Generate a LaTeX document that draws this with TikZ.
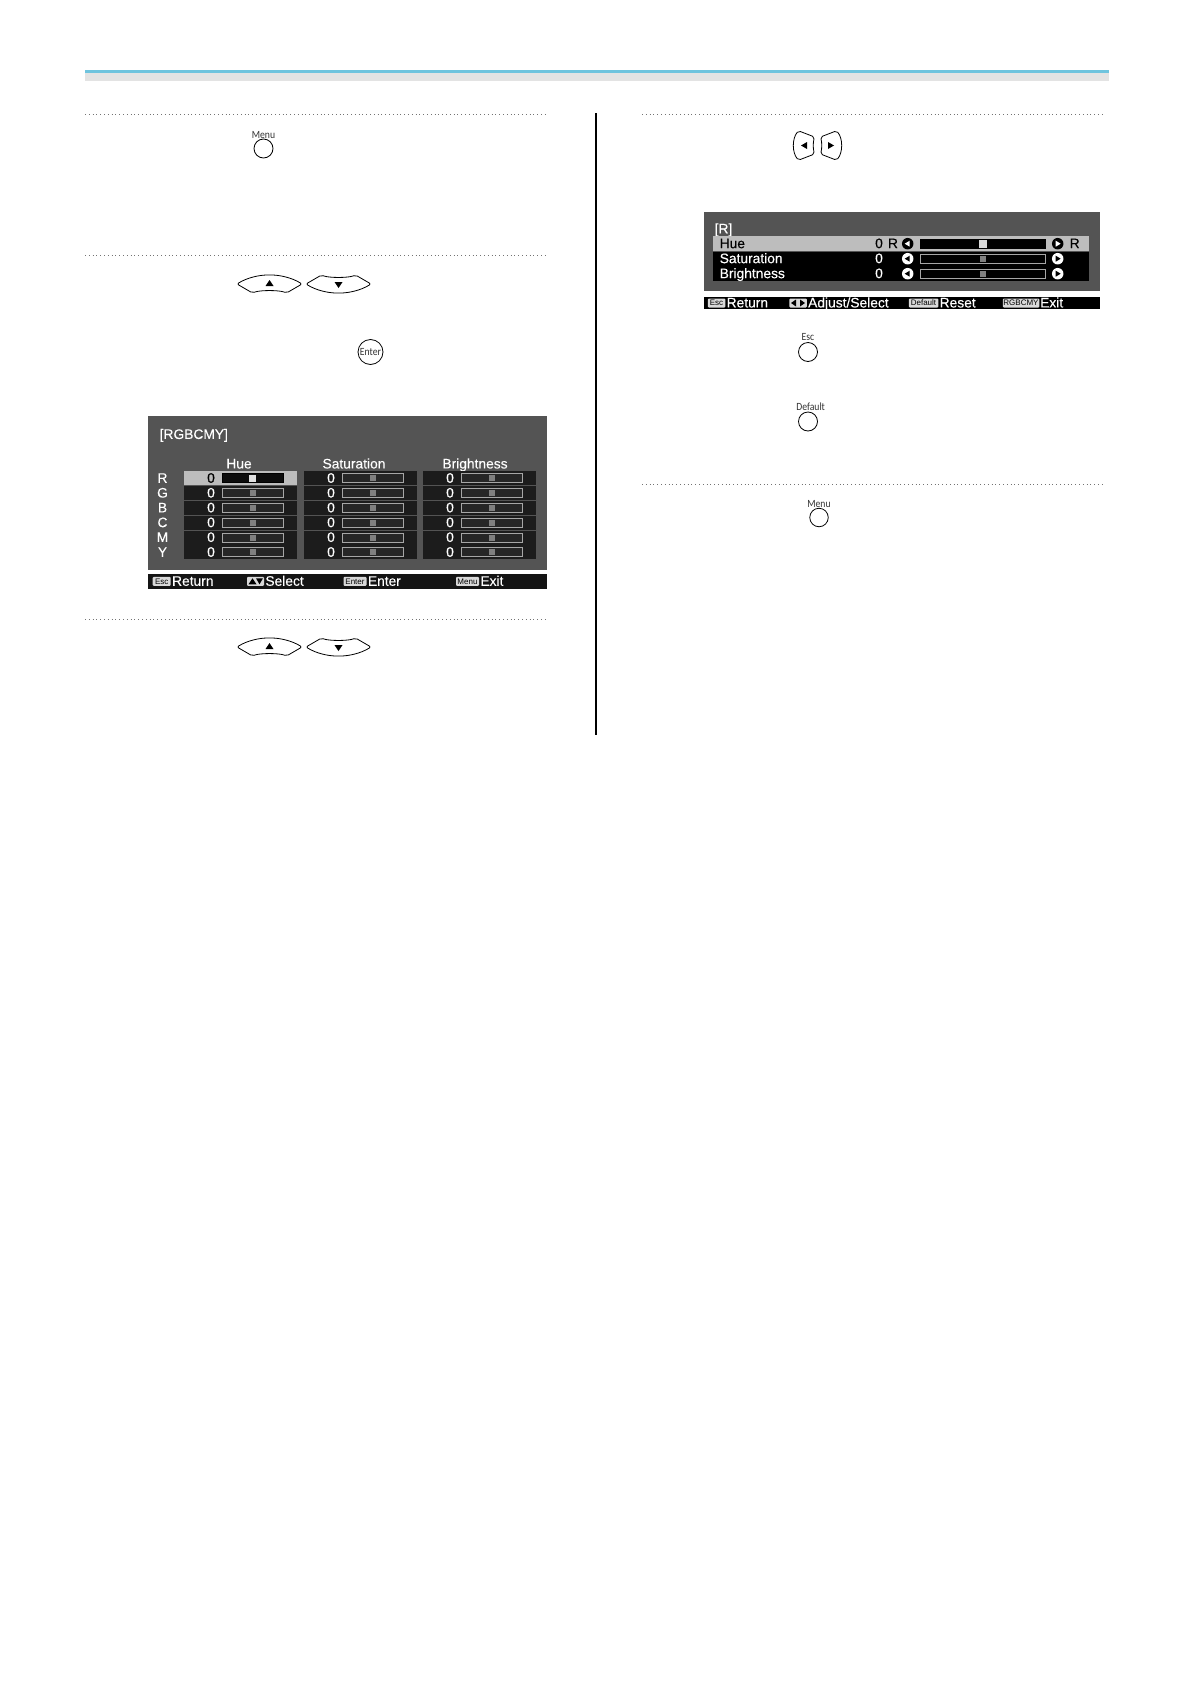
\documentclass[tikz,border=0pt]{standalone}
\usepackage{fontspec}
\setmainfont{Liberation Sans}
\newfontfamily\keyfont{Carlito}
\newfontfamily\osdfont[FakeBold=0.2]{Liberation Sans}
\usetikzlibrary{positioning,calc}

\definecolor{barblue}{HTML}{6FC4DE}
\definecolor{bargray}{HTML}{E3E3E3}
\definecolor{panelgray}{HTML}{545454}
\definecolor{rowdark}{HTML}{1C1C1C}
\definecolor{rowlight}{HTML}{BDBDBD}

\tikzset{
  dotline/.style={draw=black!55, line width=0.9pt, dash pattern=on 0.9pt off 2.9pt},
  btn/.style={circle, draw, line width=0.8pt, inner sep=0pt, minimum size=19pt},
  btnlabel/.style={font=\keyfont\fontsize{11}{11}\selectfont, text=black!80, inner sep=0pt, xscale=0.88},
  keyline/.style={draw, line width=0.8pt, line join=round, rounded corners=2pt},
  osd/.style={font=\osdfont\fontsize{13.8}{13.8}\selectfont, inner sep=0pt, text height=9.8pt, text depth=0.9pt},
  osdtext/.style={osd, text=white},
  cellrow/.style={fill=rowdark, inner sep=0pt, minimum height=14pt, minimum width=112.5pt},
  track/.style={draw=black!35, line width=0.7pt, fill=black!85, inner sep=0pt, minimum height=9pt},
  thumb/.style={fill=black!50, inner sep=0pt, minimum size=6pt},
  tag/.style={fill=white!85!black, text=black, rounded corners=1pt, inner sep=0pt, minimum height=9pt,
    font=\fontsize{8}{8}\selectfont},
  ball/.style={circle, fill=white, inner sep=0pt, minimum size=11.5pt}
}

% wide arrow key, drawn around 0,0
\newcommand{\widekey}{%
  (-32.5,0) .. controls (-22,-6.5) and (-10,-9) .. (0,-9) .. controls (10,-9) and (22,-6.5) .. (32.5,0)
  -- (17,9) .. controls (10,6) and (-10,6) .. (-17,9) -- cycle}
% narrow arrow key, drawn around 0,0 and pointing left
\newcommand{\sidekey}{%
  (-5.5,-14.7) .. controls (-12,-7) and (-12,7) .. (-5.5,14.7)
  -- (10.5,8.5) .. controls (9,3) and (9,-3) .. (10.5,-8.5) -- cycle}

\begin{document}
\begin{tikzpicture}[x=1pt, y=-1pt]
  \useasboundingbox (0,0) rectangle (1190,1684);

  % Header band
  \fill[bargray] (85,70) rectangle (1108.5,81);
  \fill[barblue] (85,69.5) rectangle (1108.5,72.5);

  % Dotted rules
  \coordinate (D1a) at (85,114);
  \coordinate (D1b) at (548,114);
  \coordinate (D2a) at (85,255);
  \coordinate (D2b) at (548,255);
  \coordinate (D3a) at (85,619);
  \coordinate (D3b) at (548,619);
  \coordinate (D4a) at (642,114);
  \coordinate (D4b) at (1105,114);
  \coordinate (D5a) at (642,484);
  \coordinate (D5b) at (1105,484);
  \draw[dotline] (D1a) -- (D1b);
  \draw[dotline] (D2a) -- (D2b);
  \draw[dotline] (D3a) -- (D3b);
  \draw[dotline] (D4a) -- (D4b);
  \draw[dotline] (D5a) -- (D5b);

  % Column divider
  \coordinate (V1) at (596,113);
  \coordinate (V2) at (596,735);
  \draw[line width=1.2pt] (V1) -- (V2);

  % Round buttons
  \node[btn] (menuA) at (263.5,148.5) {};
  \node[btnlabel, above of=menuA, node distance=13.5pt] (menuAt) {Menu};
  \node[btn, minimum size=25pt] (enterB) at (370.5,352) {};
  \node[btnlabel] (enterBt) at (enterB) {Enter};
  \node[btn] (escB) at (808,352) {};
  \node[btnlabel, above of=escB, node distance=14.5pt] (escBt) {Esc};
  \node[btn] (defaultB) at (808,421.5) {};
  \node[btnlabel, above of=defaultB, node distance=14.5pt, xshift=3pt] (defaultBt) {Default};
  \node[btn, minimum size=18.5pt] (menuB) at (819,517.5) {};
  \node[btnlabel, above of=menuB, node distance=13.5pt] (menuBt) {Menu};

  % Arrow keys
  \draw[keyline, shift={(269.5,284)}] \widekey;
  \fill[shift={(269.5,284)}] (0,-4) -- (4,2) -- (-4,2) -- cycle;
  \draw[keyline, shift={(338.5,284)}, yscale=-1] \widekey;
  \fill[shift={(338.5,284)}] (0,4) -- (4,-2) -- (-4,-2) -- cycle;
  \draw[keyline, shift={(269.5,647)}] \widekey;
  \fill[shift={(269.5,647)}] (0,-4) -- (4,2) -- (-4,2) -- cycle;
  \draw[keyline, shift={(338.5,647)}, yscale=-1] \widekey;
  \fill[shift={(338.5,647)}] (0,4) -- (4,-2) -- (-4,-2) -- cycle;
  \draw[keyline, shift={(804,145.5)}] \sidekey;
  \fill[shift={(804,145.5)}] (-3,0) -- (3,-3.5) -- (3,3.5) -- cycle;
  \draw[keyline, shift={(831,145.5)}, xscale=-1] \sidekey;
  \fill[shift={(831,145.5)}] (3,0) -- (-3,-3.5) -- (-3,3.5) -- cycle;

  % RGBCMY panel
  \fill[panelgray] (148,416) rectangle (546.5,570);
  \node[osdtext, anchor=west] (rgbTitle) at (159.5,434.5) {[RGBCMY]};
  \node[osdtext] (hueHead) at (239,464) {Hue};
  \node[osdtext] (satHead) at (354,464) {Saturation};
  \node[osdtext] (briHead) at (475,464) {Brightness};

  % Rows of the panel
  \foreach \lab [count=\i from 0] in {R,G,B,C,M,Y} {
    \pgfmathsetmacro{\rowy}{478.3+14.8*\i}
    \node[osdtext] (lab\lab) at (162.5,\rowy) {\lab};
    \foreach \colx/\name in {240.5/hue,360.5/sat,479.5/bri} {
      \node[cellrow] (\name\lab) at (\colx,\rowy) {};
      \node[osdtext, left=0pt of \name\lab.west, xshift=31pt] (\name\lab v) {0};
      \node[track, minimum width=61.5pt, right=0pt of \name\lab.center, xshift=-19pt] (\name\lab t) {};
      \node[thumb] (\name\lab k) at (\name\lab t) {};
    }
  }

  % Selected cell
  \node[cellrow, fill=rowlight] (hueRs) at (hueR) {};
  \node[osd, left=0pt of hueRs.west, xshift=31pt] (hueRv) {0};
  \node[track, draw=black, fill=black!95, minimum width=61.5pt, right=0pt of hueRs.center, xshift=-19pt] (hueRt) {};
  \node[thumb, fill=black!12, minimum size=7pt] (hueRk) at (hueRt) {};

  % RGBCMY footer
  \fill[black!92] (148,574) rectangle (546.5,588.5);
  \node[tag, minimum width=18pt] (escA) at (161.7,581.3) {Esc};
  \node[osdtext, right=1pt of escA] (escAt) {Return};
  \node[tag, minimum width=17pt] (selA) at (255.5,581.3) {};
  \fill[black] ($(selA)+(-7,3)$) -- ($(selA)+(-3,-3)$) -- ($(selA)+(1,3)$) -- cycle;
  \fill[black] ($(selA)+(0.5,-3)$) -- ($(selA)+(7.5,-3)$) -- ($(selA)+(4,3)$) -- cycle;
  \node[osdtext, right=1pt of selA] (selAt) {Select};
  \node[tag, minimum width=23pt] (entA) at (355,581.3) {Enter};
  \node[osdtext, right=1pt of entA] (entAt) {Enter};
  \node[tag, minimum width=23pt] (menA) at (467.5,581.3) {Menu};
  \node[osdtext, right=1pt of menA] (menAt) {Exit};

  % R panel
  \fill[panelgray] (703.5,212) rectangle (1099.5,290.5);
  \node[osdtext, anchor=west] (rTitle) at (714.5,229) {[R]};

  \node[fill=rowlight, inner sep=0pt, minimum width=375.5pt, minimum height=15pt] (rowHue) at (901,243.5) {};
  \node[fill=black, inner sep=0pt, minimum width=375.5pt, minimum height=14pt] (rowSat) at (901,258.7) {};
  \node[fill=black, inner sep=0pt, minimum width=375.5pt, minimum height=14.5pt] (rowBri) at (901,273.5) {};

  \node[osd, anchor=west] (hueName) at (719.5,243.7) {Hue};
  \node[osdtext, anchor=west] (satName) at (719.5,258.7) {Saturation};
  \node[osdtext, anchor=west] (briName) at (719.5,273.7) {Brightness};
  \node[osd] (hueVal) at (879,243.7) {0};
  \node[osdtext] (satVal) at (879,258.7) {0};
  \node[osdtext] (briVal) at (879,273.7) {0};
  \node[osd] (hueLow) at (893,243.7) {R};
  \node[osd] (hueHigh) at (1074.7,243.7) {R};

  \node[ball, fill=black] (hueL) at (907.7,243.7) {};
  \node[ball] (satL) at (907.7,258.7) {};
  \node[ball] (briL) at (907.7,273.7) {};
  \node[ball, fill=black] (hueM) at (1057.7,243.7) {};
  \node[ball] (satM) at (1057.7,258.7) {};
  \node[ball] (briM) at (1057.7,273.7) {};
  \fill[white] ($(hueL)+(-3,0)$) -- ($(hueL)+(2,-3)$) -- ($(hueL)+(2,3)$) -- cycle;
  \fill[black] ($(satL)+(-3,0)$) -- ($(satL)+(2,-3)$) -- ($(satL)+(2,3)$) -- cycle;
  \fill[black] ($(briL)+(-3,0)$) -- ($(briL)+(2,-3)$) -- ($(briL)+(2,3)$) -- cycle;
  \fill[white] ($(hueM)+(3,0)$) -- ($(hueM)+(-2,-3)$) -- ($(hueM)+(-2,3)$) -- cycle;
  \fill[black] ($(satM)+(3,0)$) -- ($(satM)+(-2,-3)$) -- ($(satM)+(-2,3)$) -- cycle;
  \fill[black] ($(briM)+(3,0)$) -- ($(briM)+(-2,-3)$) -- ($(briM)+(-2,3)$) -- cycle;

  \node[track, draw=black, fill=black, minimum width=124.5pt] (hueT) at (983,243.7) {};
  \node[track, fill=black, minimum width=124.5pt] (satT) at (983,258.7) {};
  \node[track, fill=black, minimum width=124.5pt] (briT) at (983,273.7) {};
  \node[thumb, fill=black!15, minimum size=8pt] (hueK) at (hueT) {};
  \node[thumb] (satK) at (satT) {};
  \node[thumb] (briK) at (briT) {};

  % R footer
  \fill[black] (703.5,296.7) rectangle (1099.5,309);
  \node[tag, minimum width=17.5pt] (escC) at (716.5,303) {Esc};
  \node[osdtext, right=1pt of escC] (escCt) {Return};
  \node[tag, minimum width=17.5pt] (adjC) at (798,303) {};
  \fill[black] ($(adjC)+(-7,0)$) -- ($(adjC)+(-2,-3.5)$) -- ($(adjC)+(-2,3.5)$) -- cycle;
  \fill[black] ($(adjC)+(7,0)$) -- ($(adjC)+(2,-3.5)$) -- ($(adjC)+(2,3.5)$) -- cycle;
  \node[osdtext, right=1pt of adjC] (adjCt) {Adjust/Select};
  \node[tag, minimum width=29.5pt] (defC) at (923.5,303) {Default};
  \node[osdtext, right=1pt of defC] (defCt) {Reset};
  \node[tag, minimum width=36.5pt] (rgbC) at (1021,303) {RGBCMY};
  \node[osdtext, right=0.5pt of rgbC] (rgbCt) {Exit};

\end{tikzpicture}
\end{document}
